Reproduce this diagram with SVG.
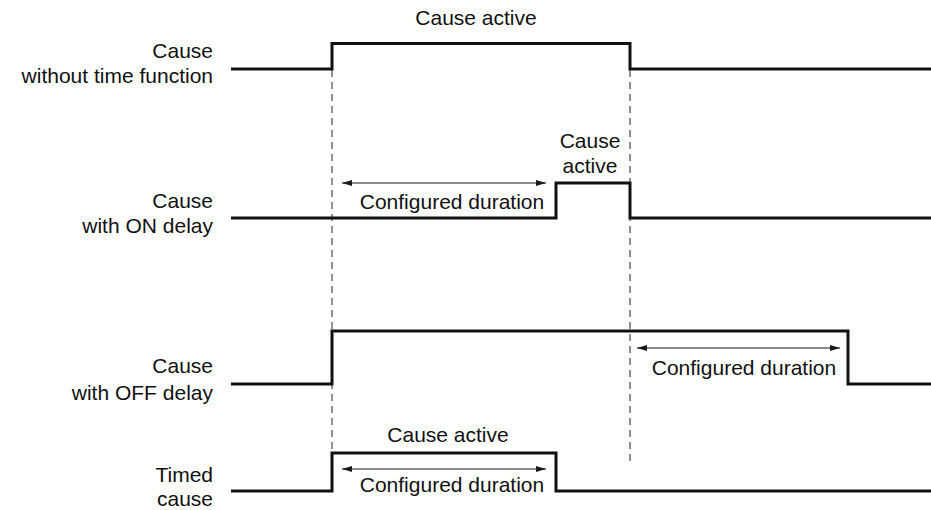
<svg xmlns="http://www.w3.org/2000/svg" width="931" height="510" viewBox="0 0 931 510">
<defs>
<marker id="ah" viewBox="0 0 10 6" refX="10" refY="3" markerWidth="10" markerHeight="6" markerUnits="userSpaceOnUse" orient="auto-start-reverse"><path d="M0,0 L10,3 L0,6 z" fill="#1a1a1a"/></marker>
<style>
.sig{fill:none;stroke:#111;stroke-width:3}
.dash{fill:none;stroke:#222;stroke-width:1;stroke-dasharray:7 5}
.arr{fill:none;stroke:#1a1a1a;stroke-width:1;marker-start:url(#ah);marker-end:url(#ah)}
text{font-family:"Liberation Sans",Arial,sans-serif;font-size:21px;fill:#111}
.r{text-anchor:end}
.m{text-anchor:middle}
</style>
</defs>
<rect width="931" height="510" fill="#fff"/>
<g id="connectors">
<line class="dash" x1="332" y1="70" x2="332" y2="465"/>
<line class="dash" x1="630" y1="70" x2="630" y2="465"/>
<line class="arr" x1="342" y1="183" x2="546" y2="183"/>
<line class="arr" x1="637" y1="348" x2="840" y2="348"/>
<line class="arr" x1="342" y1="469" x2="546" y2="469"/>
</g>
<g id="row1">
<text class="r" x="213" y="58">Cause</text>
<text class="r" x="213" y="83">without time function</text>
<path class="sig" d="M231,69 H332 V43.5 H630 V69 H931"/>
<text class="m" x="476" y="25">Cause active</text>
</g>
<g id="row2">
<text class="r" x="213" y="208">Cause</text>
<text class="r" x="213" y="233">with ON delay</text>
<path class="sig" d="M231,218 H556 V183 H630 V218 H931"/>
<text class="m" x="452" y="209">Configured duration</text>
<text class="m" x="590" y="148">Cause</text>
<text class="m" x="590" y="173">active</text>
</g>
<g id="row3">
<text class="r" x="213" y="373">Cause</text>
<text class="r" x="213" y="400">with OFF delay</text>
<path class="sig" d="M231,384 H332 V331 H848 V384 H931"/>
<text class="m" x="744" y="375">Configured duration</text>
</g>
<g id="row4">
<text class="r" x="213" y="482">Timed</text>
<text class="r" x="213" y="506">cause</text>
<path class="sig" d="M231,491 H332 V453 H556 V491 H931"/>
<text class="m" x="448" y="442">Cause active</text>
<text class="m" x="452" y="492">Configured duration</text>
</g>
</svg>
